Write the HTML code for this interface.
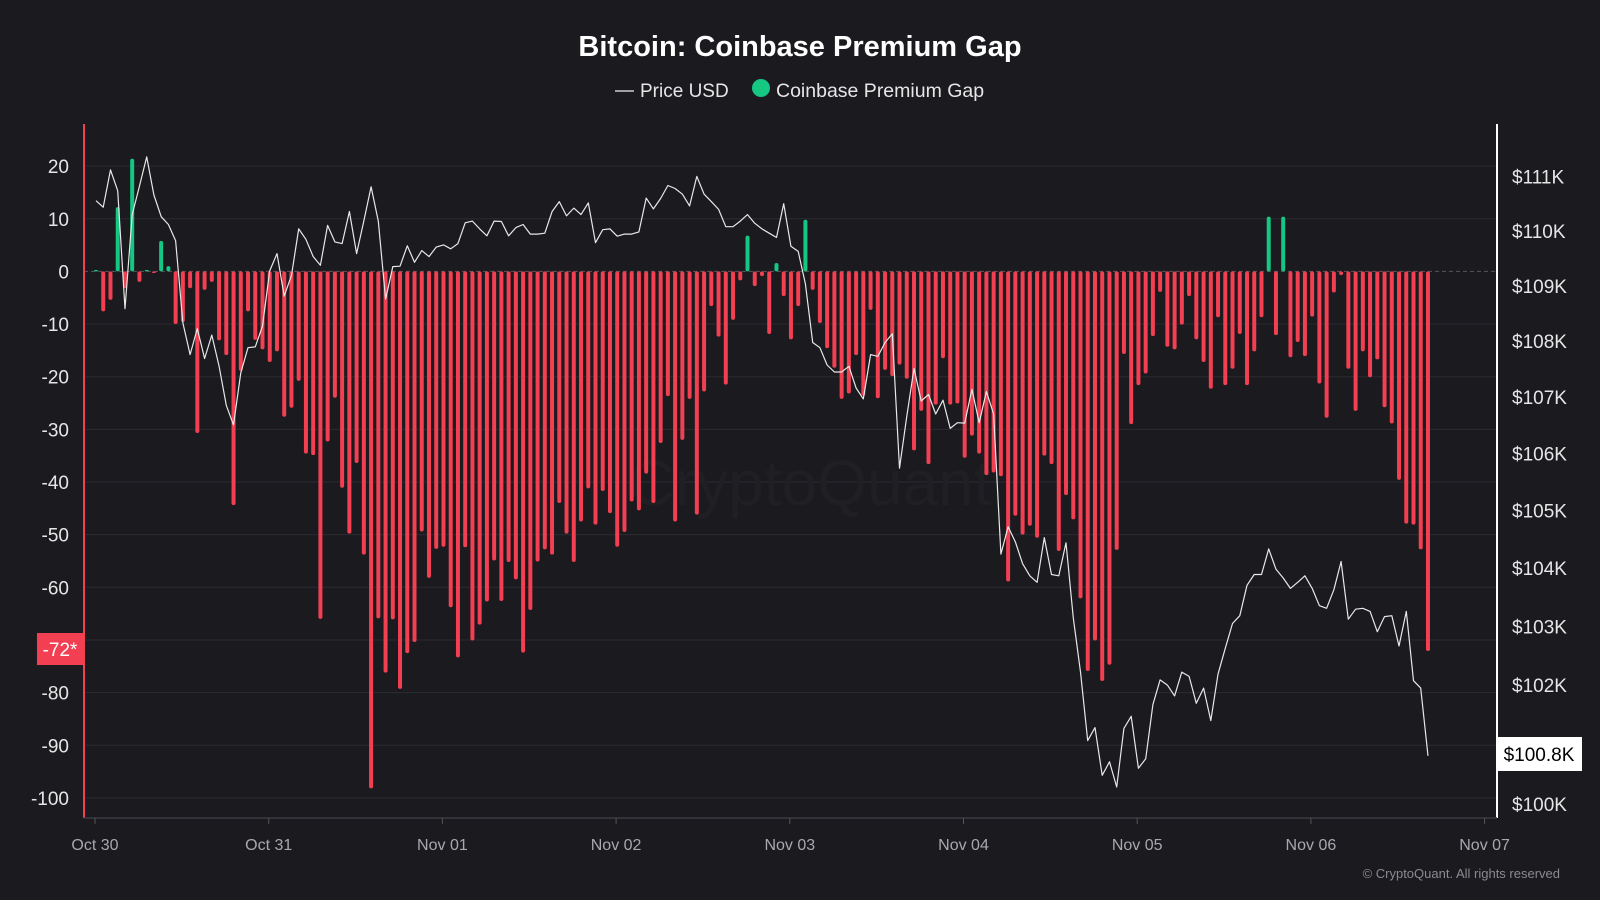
<!DOCTYPE html>
<html><head><meta charset="utf-8"><style>
html,body{margin:0;padding:0;background:#1a1a1f;}
svg{display:block}
text{font-family:"Liberation Sans",Arial,sans-serif}
</style></head><body>
<svg id="s" width="1600" height="900" viewBox="0 0 1600 900" xmlns="http://www.w3.org/2000/svg">
<rect width="1600" height="900" fill="#1a1a1f"/>
<g id="grid"></g>
<text x="810" y="505" text-anchor="middle" font-size="64" fill="#1f1f24">CryptoQuant</text>
<g id="bars"></g>
<polyline id="line" fill="none" stroke="#e8e8e8" stroke-width="1.2" stroke-linejoin="round"/>
<text x="800" y="56" text-anchor="middle" font-size="29" font-weight="bold" fill="#ffffff">Bitcoin: Coinbase Premium Gap</text>
<line x1="615" y1="91" x2="634" y2="91" stroke="#cccccc" stroke-width="1.5"/>
<text x="640" y="97" font-size="19" fill="#e6e6e6">Price USD</text>
<circle cx="761" cy="88" r="9" fill="#16c784"/>
<text x="776" y="97" font-size="19.5" fill="#e6e6e6">Coinbase Premium Gap</text>
<line x1="84" y1="124" x2="84" y2="818" stroke="#f23f52" stroke-width="2"/>
<line x1="1497" y1="124" x2="1497" y2="818" stroke="#ffffff" stroke-width="2"/>
<line x1="84" y1="818" x2="1497" y2="818" stroke="#3a3a40" stroke-width="1.5"/>
<g id="labels"></g>
<rect x="37" y="633" width="47" height="32" fill="#f23f52"/>
<text x="60" y="656" text-anchor="middle" font-size="19" fill="#ffffff">-72*</text>
<rect x="1497" y="737" width="85" height="34" fill="#ffffff"/>
<text x="1539" y="761" text-anchor="middle" font-size="19" fill="#000000">$100.8K</text>
<text x="1560" y="878" text-anchor="end" font-size="13" fill="#8a8a90">© CryptoQuant. All rights reserved</text>
</svg>
<script>
var NS="http://www.w3.org/2000/svg";
function el(t,a,p,txt){var e=document.createElementNS(NS,t);for(var k in a)e.setAttribute(k,a[k]);if(txt!==undefined)e.textContent=txt;document.getElementById(p).appendChild(e);return e;}
var Z=271.4,K=5.265;
for(var v=20;v>=-100;v-=10){var y=Z-v*K;
 if(v!==0)el("line",{x1:84,y1:y,x2:1497,y2:y,stroke:"#2a2a30","stroke-width":1},"grid");
 if(v!==-70)el("text",{x:69,y:y+7,"text-anchor":"end","font-size":19,fill:"#e6e6e6"},"labels",String(v));}
el("line",{x1:84,y1:Z,x2:1497,y2:Z,stroke:"#55555c","stroke-width":1,"stroke-dasharray":"4,3"},"grid");
for(var k=111;k>=100;k--){var y=804-(Math.log(k/100)/Math.log(1.11))*(804-176.5);
 if(k!==101)el("text",{x:1512,y:y+7,"font-size":19,fill:"#e6e6e6"},"labels","$"+k+"K");}
var days=["Oct 30","Oct 31","Nov 01","Nov 02","Nov 03","Nov 04","Nov 05","Nov 06","Nov 07"];
for(var i=0;i<9;i++){var x=95+i*173.7;
 el("line",{x1:x,y1:818,x2:x,y2:824,stroke:"#555",  "stroke-width":1},"labels");
 el("text",{x:x,y:850,"text-anchor":"middle","font-size":16,fill:"#a8a8ae"},"labels",days[i]);}
var B=[0,-7.6,-5.4,12.2,-3.2,21.4,-2,0.3,-0.3,5.8,1,-10,-9.6,-3.2,-30.7,-3.5,-2,-13.1,-15.9,-44.4,-18.9,-7.6,-13,-14.8,-17.2,-15.2,-27.6,-25.9,-20.8,-34.6,-34.9,
-66,-32.3,-24,-41.1,-49.8,-36.4,-53.8,-98.2,-65.9,-76.2,-66.1,-79.3,-72.5,-70.4,-49.4,-58.2,-52.7,-52.3,-63.8,-73.3,-52.4,-70.1,-67.1,-62.7,-54.9,-62.6,-55.2,-58.5,-72.4,-64.3,-55.1,
-52.8,-53.8,-44,-49.8,-55.2,-47.5,-41.2,-48.1,-41.7,-45.9,-52.3,-49.5,-43.7,-45.4,-38.4,-44,-32.6,-23.7,-47.5,-32,-24.2,-46.2,-22.8,-6.6,-12.4,-21.5,-9.2,-1.7,6.8,-2.8,-0.9,
-11.9,1.6,-4.7,-12.9,-6.6,9.8,-3.5,-9.8,-14.6,-18.3,-24.2,-23.2,-15.9,-23.6,-7.3,-24.1,-18.7,-19.9,-17.7,-20.4,-34,-26.5,-36.6,-25.3,-16.5,-25.3,-25.1,-35.4,-31.2,-34.6,-38.7,
-38.2,-38.9,-58.9,-46.4,-50,-48.3,-50.6,-35,-36.6,-53.1,-42.5,-47.1,-62.1,-75.9,-70.1,-77.8,-74.7,-52.9,-15.7,-29,-21.6,-19.4,-12.3,-3.9,-14.3,-14.8,-10.1,-4.7,-12.9,-17.2,-22.3,
-8.7,-21.6,-18.5,-11.9,-21.6,-15.2,-8.7,10.4,-12.1,10.4,-16.3,-13.4,-16.1,-8.6,-21.3,-27.8,-4,-0.7,-18.5,-26.5,-15.2,-20.1,-16.7,-25.8,-28.9,-39.6,-47.9,-48.1,-52.8,-72.1];
var L=[163,178,92,140,412,195,130,62,150,200,218,255,445,518,458,527,473,545,635,680,560,502,500,452,325,285,383,335,228,252,292,
312,220,258,262,188,285,210,131,210,390,315,314,267,305,278,292,270,265,274,262,214,210,228,244,210,211,244,225,218,240,240,
238,188,165,198,180,195,168,260,230,228,245,240,240,235,157,182,158,128,135,148,175,107,148,165,183,223,223,210,195,215,228,
238,248,170,268,280,355,490,502,542,558,558,545,595,620,518,522,490,470,780,660,550,625,610,655,623,688,675,676,598,675,603,
655,978,915,950,1000,1028,1043,940,1025,1028,952,1125,1250,1408,1378,1488,1457,1515,1380,1352,1472,1450,1325,1268,1280,1305,1250,1260,1322,1287,1362,
1255,1195,1138,1120,1050,1025,1025,966,1013,1033,1057,1043,1028,1057,1097,1103,1060,995,1128,1105,1103,1110,1157,1122,1120,1190,1110,1270,1287,1443];
var pts=[];
for(var i=0;i<B.length;i++){var x=96+i*7.239,v=B[i],h=Math.abs(v)*K;
 if(h<1.5)h=1.5;
 var y=v>=0?Z-h:Z;
 el("rect",{x:x-2,y:y,width:4,height:h,rx:2,fill:v>=0?"#16c784":"#f23f52"},"bars");
 if(i<L.length)pts.push(x.toFixed(1)+","+(L[i]/2.306+130).toFixed(1));}
document.getElementById("line").setAttribute("points",pts.join(" "));
</script>
</body></html>
